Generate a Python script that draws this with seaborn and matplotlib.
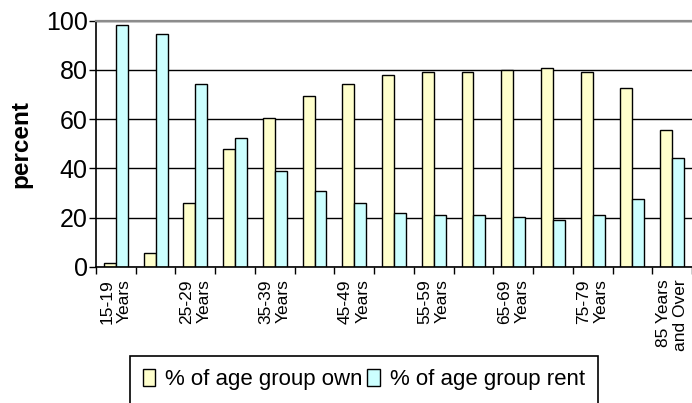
import matplotlib
matplotlib.use("Agg")
import matplotlib.pyplot as plt
from matplotlib.patches import Patch
import seaborn as sns
import pandas as pd

# Age groups (every other label is left blank on the axis)
age_groups = [
    "15-19\nYears", "20-24\nYears", "25-29\nYears", "30-34\nYears",
    "35-39\nYears", "40-44\nYears", "45-49\nYears", "50-54\nYears",
    "55-59\nYears", "60-64\nYears", "65-69\nYears", "70-74\nYears",
    "75-79\nYears", "80-84\nYears", "85 Years\nand Over",
]
pct_own = [1.6, 5.6, 25.8, 47.8, 60.4, 69.3, 74.2, 78.1, 79.1, 79.1, 79.8, 80.6, 79.1, 72.6, 55.4]
pct_rent = [98.4, 94.4, 74.2, 52.2, 39.0, 30.7, 25.8, 21.9, 20.9, 20.9, 20.2, 18.8, 20.9, 27.4, 44.2]
series_names = ["% of age group own", "% of age group rent"]
series_colors = ["#FFFFCC", "#CCFFFF"]
y_ticks = [0, 20, 40, 60, 80, 100]

df = pd.DataFrame({
    "age": age_groups * 2,
    "percent": pct_own + pct_rent,
    "series": [series_names[0]] * len(age_groups) + [series_names[1]] * len(age_groups),
})

sns.set_theme(style="white")
plt.rcParams["font.family"] = ["Liberation Sans", "DejaVu Sans"]
plt.rcParams["text.color"] = "black"
plt.rcParams["axes.labelcolor"] = "black"
plt.rcParams["xtick.color"] = "black"
plt.rcParams["ytick.color"] = "black"

W, H = 692, 403
fig = plt.figure(figsize=(W / 100, H / 100), dpi=100)
ax = fig.add_axes([96 / W, (H - 266.7) / H, (W - 96) / W, 246 / H])

sns.barplot(
    data=df, x="age", y="percent", hue="series", order=age_groups,
    hue_order=series_names, palette=series_colors, saturation=1,
    width=0.6, edgecolor="black", linewidth=1.0, errorbar=None,
    legend=False, ax=ax,
)

n = len(age_groups)
ax.set_xlim(-0.5, n - 0.5)
ax.set_ylim(0, 100)
ax.set_yticks(y_ticks)
ax.set_yticklabels([str(v) for v in y_ticks], fontsize=18, color="black")

# category labels on alternate groups, tick marks on group boundaries
ax.set_xticks(range(n))
ax.set_xticklabels(
    [lab if i % 2 == 0 else "" for i, lab in enumerate(age_groups)],
    rotation=90, fontsize=12.5, ha="center", va="top", color="black",
    multialignment="right", linespacing=1.2,
)
ax.set_xticks([i - 0.5 for i in range(n + 1)], minor=True)
ax.tick_params(axis="x", which="major", length=0, pad=9)
ax.tick_params(axis="x", which="minor", length=5, width=1, color="black",
               direction="out", bottom=True)
ax.tick_params(axis="y", length=5, width=1, color="black", direction="out",
               left=True, pad=1)

ax.set_xlabel("")
ax.set_ylabel("percent", fontsize=17.5, fontweight="bold", labelpad=10,
              color="black")

ax.set_axisbelow(True)
ax.yaxis.grid(True, color="black", linewidth=1.0)
ax.xaxis.grid(False)

for side in ["left", "bottom"]:
    ax.spines[side].set_color("black")
    ax.spines[side].set_linewidth(1.2)
ax.spines["top"].set_color("#8c8c8c")
ax.spines["top"].set_linewidth(1.6)
ax.spines["right"].set_visible(False)

handles = [Patch(facecolor=c, edgecolor="black", linewidth=1.0) for c in series_colors]
leg = fig.legend(
    handles, series_names, loc="upper center",
    bbox_to_anchor=(364 / W, 1 - 355.7 / H), ncol=2, fontsize=16,
    frameon=True, fancybox=False, shadow=False, framealpha=1,
    edgecolor="black", handlelength=0.55, handleheight=0.8,
    handletextpad=0.45, columnspacing=0.2, borderpad=0.6, borderaxespad=0,
)
leg.get_frame().set_linewidth(1.2)
for t in leg.get_texts():
    t.set_color("black")

fig.savefig("out.png", dpi=100)
